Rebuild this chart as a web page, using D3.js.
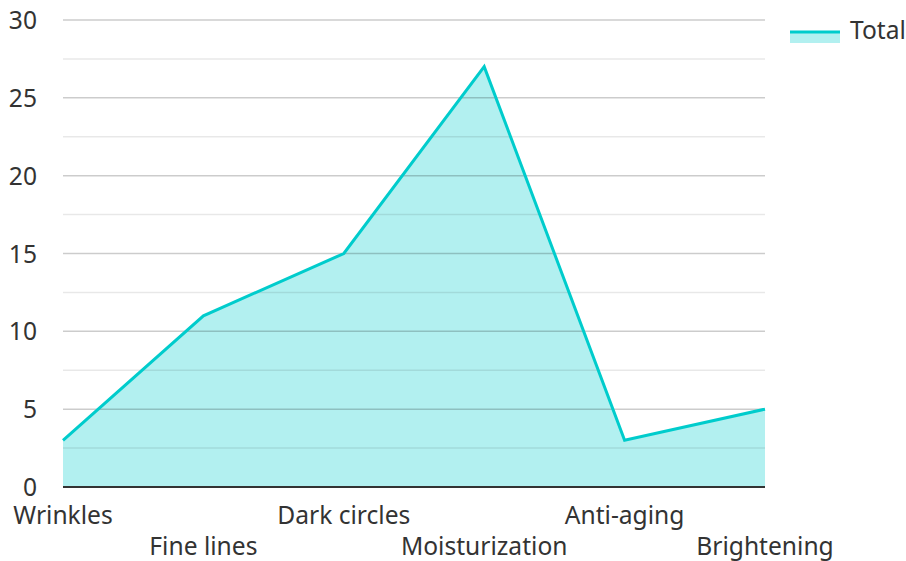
<!DOCTYPE html>
<html>
<head>
<meta charset="utf-8">
<script src="https://cdn.jsdelivr.net/npm/d3@7"></script>
<style>
  body { margin: 0; background: #fff; }
  text { font-family: "Noto Sans", sans-serif; fill: #333; }
</style>
</head>
<body>
<svg id="chart" width="906" height="561"></svg>
<script>
const categories = ['Wrinkles', 'Fine lines', 'Dark circles', 'Moisturization', 'Anti-aging', 'Brightening'];
const totals = [3, 11, 15, 27, 3, 5];
const yTicks = [0, 5, 10, 15, 20, 25, 30];
const minorTicks = [2.5, 7.5, 12.5, 17.5, 22.5, 27.5];

const svg = d3.select('#chart');
const plotLeft = 63, plotRight = 765, plotTop = 20, plotBottom = 487;
const fontSize = 24.6;

const x = d3.scalePoint().domain(categories).range([plotLeft, plotRight]);
const y = d3.scaleLinear().domain([0, 30]).range([plotBottom, plotTop]);

// area first, grid goes over it
const area = d3.area()
  .x((d, i) => x(categories[i]))
  .y0(y(0))
  .y1(d => y(d));
svg.append('path')
  .datum(totals)
  .attr('d', area)
  .attr('fill', '#00cccc')
  .attr('fill-opacity', 0.3);

svg.append('g').selectAll('line')
  .data(minorTicks)
  .join('line')
  .attr('x1', plotLeft).attr('x2', plotRight)
  .attr('y1', d => y(d)).attr('y2', d => y(d))
  .attr('stroke', '#000').attr('stroke-opacity', 0.09).attr('stroke-width', 1.5);

svg.append('g').selectAll('line')
  .data(yTicks.filter(d => d > 0))
  .join('line')
  .attr('x1', plotLeft).attr('x2', plotRight)
  .attr('y1', d => y(d)).attr('y2', d => y(d))
  .attr('stroke', '#000').attr('stroke-opacity', 0.2).attr('stroke-width', 1.5);

svg.append('g').selectAll('text')
  .data(yTicks)
  .join('text')
  .attr('x', 37)
  .attr('y', d => y(d) + 9)
  .attr('text-anchor', 'end')
  .attr('font-size', fontSize)
  .text(d => d);

const line = d3.line()
  .x((d, i) => x(categories[i]))
  .y(d => y(d));
svg.append('path')
  .datum(totals)
  .attr('d', line)
  .attr('fill', 'none')
  .attr('stroke', '#00cccc')
  .attr('stroke-width', 3);

// x axis baseline
svg.append('line')
  .attr('x1', plotLeft).attr('x2', plotRight)
  .attr('y1', plotBottom).attr('y2', plotBottom)
  .attr('stroke', '#333').attr('stroke-width', 2);

svg.append('g').selectAll('text')
  .data(categories)
  .join('text')
  .attr('x', d => x(d))
  .attr('y', (d, i) => i % 2 === 0 ? 524 : 555)
  .attr('text-anchor', 'middle')
  .attr('font-size', fontSize)
  .text(d => d);

// legend
const lg = svg.append('g');
lg.append('rect')
  .attr('x', 790).attr('y', 31).attr('width', 50).attr('height', 12)
  .attr('fill', '#00cccc').attr('fill-opacity', 0.3);
lg.append('line')
  .attr('x1', 790).attr('x2', 840).attr('y1', 32).attr('y2', 32)
  .attr('stroke', '#00cccc').attr('stroke-width', 3);
lg.append('text')
  .attr('x', 850).attr('y', 39)
  .attr('font-size', fontSize)
  .text('Total');
</script>
</body>
</html>
